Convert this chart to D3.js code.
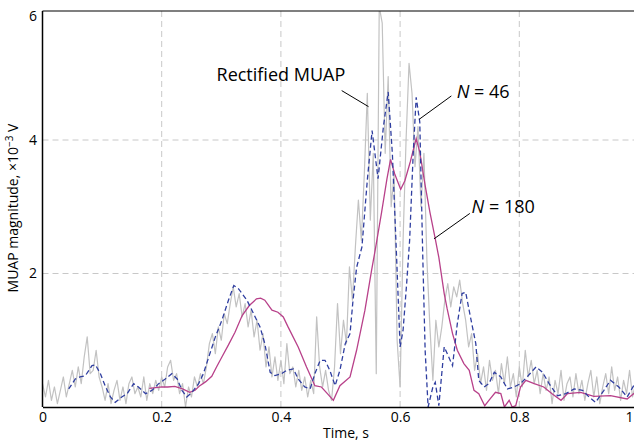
<!DOCTYPE html>
<html>
<head>
<meta charset="utf-8">
<script src="https://cdn.jsdelivr.net/npm/d3@7/dist/d3.min.js"></script>
<style>
    body { margin: 0; background: #fff; }
    svg { display: block; font-family: "Open Sans", sans-serif; }
</style>
</head>
<body>
<div id="chart"></div>
<script>
// Rectified MUAP, sampled every 0.005 s from 0 to 1 s
const rawStep = 0.005;
const rawValues = [
    0.35,0.15,0.40,0.10,0.30,0.05,0.25,0.45,0.15,0.35,0.55,0.30,0.60,0.35,0.75,1.05,0.50,0.55,0.85,0.45,
    0.30,0.10,0.35,0.05,0.25,0.40,0.10,0.30,0.05,0.35,0.45,0.20,0.30,0.15,0.45,0.10,0.35,0.20,0.40,0.25,
    0.45,0.30,0.60,0.70,0.40,0.50,0.20,0.35,0.00,0.30,0.15,0.45,0.30,0.50,0.35,0.60,0.95,1.10,0.80,1.20,
    1.00,1.40,1.25,1.55,1.80,1.50,1.70,1.35,1.55,1.20,1.45,1.05,1.30,0.85,1.10,0.60,0.90,0.45,0.75,0.40,
    0.70,0.35,0.95,0.50,0.60,0.30,0.55,0.25,0.45,0.15,0.40,0.20,1.35,0.60,0.30,0.55,0.25,0.10,0.60,1.55,
    0.80,1.30,0.95,2.10,1.60,2.40,3.10,2.50,3.50,4.70,2.80,3.80,0.50,6.00,5.75,3.80,4.95,3.00,3.50,1.00,
    0.30,2.50,4.00,5.15,4.70,3.60,4.20,3.00,3.80,2.20,1.20,0.40,1.30,0.90,1.20,1.60,1.85,1.50,1.80,1.65,
    1.90,1.55,1.30,0.90,1.10,0.55,0.80,0.35,0.60,0.25,0.70,0.40,0.55,0.20,0.65,0.35,0.75,0.30,0.50,0.15,
    0.60,0.30,0.85,0.45,0.70,0.35,0.55,0.20,0.50,0.25,0.45,0.05,0.40,0.20,0.55,0.10,0.35,0.45,0.15,0.50,
    0.20,0.40,0.10,0.35,0.55,0.15,0.45,0.05,0.30,0.50,0.20,0.60,0.25,0.45,0.10,0.40,0.20,0.55,0.15,0.35,0.50
];

// Smoothed envelope, N = 46
const n46Times = [
    0.044,0.055,0.063,0.072,0.083,0.089,0.097,0.105,0.114,0.122,0.133,0.142,0.153,0.161,0.173,0.184,0.195,
    0.206,0.217,0.226,0.234,0.242,0.251,0.262,0.270,0.279,0.290,0.301,0.312,0.321,0.329,0.343,0.354,0.365,
    0.373,0.382,0.390,0.401,0.410,0.421,0.429,0.440,0.449,0.457,0.466,0.474,0.482,0.491,0.499,0.508,0.516,
    0.521,0.527,0.536,0.545,0.553,0.563,0.572,0.580,0.587,0.594,0.600,0.605,0.611,0.616,0.622,0.627,0.633,
    0.638,0.642,0.647,0.655,0.659,0.665,0.674,0.679,0.688,0.696,0.704,0.710,0.718,0.727,0.732,0.741,0.749,
    0.758,0.769,0.780,0.791,0.802,0.813,0.828,0.839,0.850,0.864,0.878,0.892,0.906,0.917,0.928,0.942,0.953,
    0.967,0.981,0.992,1.000
];
const n46Values = [
    0.27,0.42,0.45,0.47,0.62,0.63,0.50,0.32,0.15,0.07,0.15,0.20,0.35,0.30,0.20,0.25,0.35,
    0.42,0.50,0.42,0.25,0.15,0.22,0.35,0.50,0.75,1.05,1.30,1.60,1.82,1.77,1.60,1.40,1.20,
    0.95,0.52,0.47,0.50,0.55,0.57,0.42,0.30,0.27,0.50,0.70,0.70,0.55,0.32,0.55,0.95,1.10,
    1.60,2.09,2.40,3.40,4.14,3.42,4.20,4.72,3.80,2.27,0.90,1.15,1.85,2.50,3.80,4.64,4.27,
    2.27,0.85,0.00,0.30,0.37,0.02,0.90,0.80,0.62,1.25,1.70,1.72,1.35,0.95,0.40,0.30,0.35,
    0.52,0.45,0.27,0.30,0.35,0.45,0.60,0.52,0.35,0.17,0.20,0.27,0.25,0.15,0.07,0.25,0.40,
    0.30,0.15,0.32,0.28
];

// Smoothed envelope, N = 180
const n180Times = [
    0.179,0.190,0.200,0.210,0.222,0.235,0.247,0.256,0.264,0.274,0.284,0.292,0.301,0.312,0.323,0.335,
    0.347,0.359,0.366,0.373,0.385,0.395,0.404,0.412,0.429,0.443,0.457,0.468,0.478,0.488,0.499,0.516,
    0.527,0.541,0.552,0.558,0.569,0.578,0.584,0.591,0.601,0.608,0.617,0.627,0.633,0.642,0.650,0.659,
    0.665,0.674,0.679,0.688,0.696,0.707,0.716,0.724,0.732,0.742,0.749,0.760,0.769,0.775,0.783,0.788,
    0.794,0.802,0.811,0.825,0.841,0.855,0.870,0.881,0.903,0.925,0.953,0.981,0.992,1.000
];
const n180Values = [
    0.28,0.29,0.30,0.30,0.31,0.27,0.22,0.25,0.32,0.38,0.46,0.60,0.75,0.93,1.12,1.37,
    1.52,1.62,1.63,1.60,1.45,1.42,1.35,1.20,0.90,0.60,0.32,0.30,0.20,0.10,0.32,0.45,
    0.85,1.45,2.04,2.34,2.92,3.42,3.71,3.49,3.26,3.39,3.67,4.02,3.82,3.32,2.92,2.52,
    2.24,1.70,1.47,1.10,0.85,0.65,0.55,0.25,0.20,0.02,0.10,0.22,0.20,0.00,0.10,0.00,
    0.02,0.30,0.40,0.35,0.30,0.20,0.10,0.20,0.22,0.16,0.17,0.12,0.20,0.22
];

const xTicks = [0, 0.2, 0.4, 0.6, 0.8, 1];
const xTickLabels = ['0', '0.2', '0.4', '0.6', '0.8', '1'];
const xGrid = [0.2, 0.4, 0.6, 0.8];
const yTicks = [2, 4, 6];
const yGrid = [2, 4];

const width = 634;
const height = 443;
const plotLeft = 42.5, plotRight = 638.5, plotTop = 11, plotBottom = 407;

const svg = d3.select('#chart')
    .append('svg')
    .attr('width', width)
    .attr('height', height);

svg.append('rect').attr('width', width).attr('height', height).attr('fill', '#fff');

const xScale = d3.scaleLinear().domain([0, 1]).range([plotLeft, plotRight]);
const yScale = d3.scaleLinear().domain([0, 6]).range([plotBottom, plotBottom - 6 * 66.75]);

// grid
svg.append('g')
    .selectAll('line')
    .data(xGrid)
    .enter()
    .append('line')
    .attr('x1', d => xScale(d)).attr('x2', d => xScale(d))
    .attr('y1', plotTop).attr('y2', plotBottom)
    .attr('stroke', '#c8c8c8')
    .attr('stroke-dasharray', '6,4');

svg.append('g')
    .selectAll('line')
    .data(yGrid)
    .enter()
    .append('line')
    .attr('x1', plotLeft).attr('x2', width)
    .attr('y1', d => yScale(d)).attr('y2', d => yScale(d))
    .attr('stroke', '#c8c8c8')
    .attr('stroke-dasharray', '6,4');

// clip for the curves
svg.append('clipPath').attr('id', 'plot-clip')
    .append('rect')
    .attr('x', plotLeft).attr('y', plotTop)
    .attr('width', plotRight - plotLeft).attr('height', plotBottom - plotTop);

const line = d3.line()
    .x(d => xScale(d[0]))
    .y(d => yScale(d[1]));

const curves = svg.append('g').attr('clip-path', 'url(#plot-clip)');

const rawData = rawValues.map((v, i) => [i * rawStep, v]);
const n46Data = n46Times.map((t, i) => [t, n46Values[i]]);
const n180Data = n180Times.map((t, i) => [t, n180Values[i]]);

curves.append('path')
    .datum(rawData)
    .attr('d', line)
    .attr('fill', 'none')
    .attr('stroke', '#c2c2c2')
    .attr('stroke-width', 1.2)
    .attr('stroke-linejoin', 'round');

curves.append('path')
    .datum(n180Data)
    .attr('d', line)
    .attr('fill', 'none')
    .attr('stroke', '#b8418a')
    .attr('stroke-width', 1.3);

curves.append('path')
    .datum(n46Data)
    .attr('d', line)
    .attr('fill', 'none')
    .attr('stroke', '#2f3ea0')
    .attr('stroke-width', 1.3)
    .attr('stroke-dasharray', '5,3');

// frame
svg.append('line')
    .attr('x1', plotLeft).attr('x2', width)
    .attr('y1', plotTop).attr('y2', plotTop)
    .attr('stroke', '#000').attr('stroke-width', 1.2);

const xAxis = svg.append('g')
    .attr('transform', `translate(0,${plotBottom})`)
    .call(d3.axisBottom(xScale)
        .tickValues(xTicks)
        .tickFormat((d, i) => xTickLabels[i])
        .tickSize(0)
        .tickPadding(5.5));
xAxis.select('.domain').attr('stroke', '#000').attr('stroke-width', 1.5);
// the last label sits past the window edge; pull it just inside
xAxis.selectAll('text')
    .attr('font-family', '"Open Sans", sans-serif')
    .attr('font-size', 14)
    .attr('fill', '#000')
    .attr('x', d => d === 1 ? -9.5 : 0);

svg.append('line')
    .attr('x1', plotLeft).attr('x2', plotLeft)
    .attr('y1', plotTop).attr('y2', plotBottom)
    .attr('stroke', '#000').attr('stroke-width', 1.5);

svg.append('g')
    .selectAll('text')
    .data(yTicks)
    .enter()
    .append('text')
    .attr('x', 37)
    .attr('y', d => Math.max(yScale(d), 16))
    .attr('dy', '0.35em')
    .attr('text-anchor', 'end')
    .attr('font-size', 14)
    .text(d => d);

// axis titles
svg.append('text')
    .attr('x', 346)
    .attr('y', 437.5)
    .attr('text-anchor', 'middle')
    .attr('font-size', 14)
    .text('Time, s');

const yTitle = svg.append('text')
    .attr('transform', 'translate(18,208) rotate(-90)')
    .attr('text-anchor', 'middle')
    .attr('font-size', 14);
yTitle.append('tspan').text('MUAP magnitude, ×10');
yTitle.append('tspan').attr('dy', -5).attr('font-size', 10).text('−3');
yTitle.append('tspan').attr('dy', 5).text(' V');

// annotations (data coordinates)
const leaders = [
    [[0.502, 4.74], [0.547, 4.50]],
    [[0.686, 4.66], [0.632, 4.31]],
    [[0.717, 2.90], [0.657, 2.52]]
];
svg.append('g')
    .selectAll('line')
    .data(leaders)
    .enter()
    .append('line')
    .attr('x1', d => xScale(d[0][0])).attr('y1', d => yScale(d[0][1]))
    .attr('x2', d => xScale(d[1][0])).attr('y2', d => yScale(d[1][1]))
    .attr('stroke', '#000')
    .attr('stroke-width', 1);

svg.append('text')
    .attr('x', xScale(0.292))
    .attr('y', yScale(4.89))
    .attr('font-size', 18)
    .text('Rectified MUAP');

function nLabel(t, v, n) {
    const txt = svg.append('text')
        .attr('x', xScale(t))
        .attr('y', yScale(v))
        .attr('font-size', 18);
    txt.append('tspan').attr('font-style', 'italic').text('N');
    txt.append('tspan').text(' = ' + n);
}
nLabel(0.695, 4.63, 46);
nLabel(0.720, 2.90, 180);
</script>
</body>
</html>
